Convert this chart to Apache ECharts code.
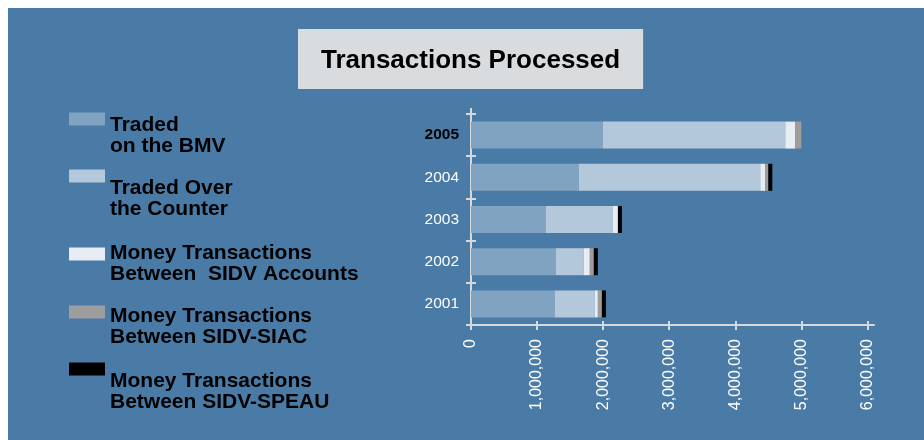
<!DOCTYPE html>
<html>
<head>
<meta charset="utf-8">
<title>Transactions Processed</title>
<script src="https://cdn.jsdelivr.net/npm/echarts@6/dist/echarts.min.js"></script>
<style>
  html, body { margin: 0; padding: 0; background: #ffffff; }
  #chart { width: 924px; height: 440px; }
</style>
</head>
<body>
<div id="chart"></div>
<script>
// Years, bottom to top on the category axis
const years = ['2001', '2002', '2003', '2004', '2005'];
const highlightYear = '2005';

// Transactions per year, by kind
const tradedBMV   = [1267000, 1282000, 1131000, 1631000, 1995000];
const tradedOTC   = [607000, 425000, 1017000, 2747000, 2762000];
const moneySIDV   = [46000, 91000, 76000, 76000, 152000];
const moneySIAC   = [61000, 61000, 0, 46000, 91000];
const moneySPEAU  = [61000, 61000, 61000, 61000, 0];

// Value axis ticks
const xTicks = [0, 1000000, 2000000, 3000000, 4000000, 5000000, 6000000];
const xMax = 6100000;

const seriesNames = [
  'Traded\non the BMV',
  'Traded Over\nthe Counter',
  'Money Transactions\nBetween  SIDV Accounts',
  'Money Transactions\nBetween SIDV-SIAC',
  'Money Transactions\nBetween SIDV-SPEAU'
];
const seriesData = [tradedBMV, tradedOTC, moneySIDV, moneySIAC, moneySPEAU];
const seriesColors = ['#7fa3c1', '#b3c8da', '#e8edf4', '#9d9d9d', '#000000'];

const panelBlue = '#4a7ba6';
const axisColor = '#d6dadd';
const font = 'Liberation Sans, Arial, Helvetica, sans-serif';

const grid = { left: 471, right: 50, top: 114, bottom: 115 };

// Legend blocks: position of each block and the blank lead line that drops its text below the swatch
const legendTops = [81, 132, 223, 276, 325];
const legendLeads = [34, 46, 20, 30, 46];

const chart = echarts.init(document.getElementById('chart'), null, { renderer: 'canvas' });

const legends = seriesNames.map((name, i) => ({
  data: [name],
  left: 69,
  top: legendTops[i],
  padding: 0,
  orient: 'vertical',
  itemWidth: 36,
  itemHeight: 13,
  selectedMode: false,
  icon: 'rect',
  itemStyle: { borderWidth: 0 },
  formatter: n => '{gap| }\n' + n.split('\n').map(s => '{t|' + s + '}').join('\n'),
  textStyle: {
    color: '#000000',
    fontFamily: font,
    fontWeight: 'bold',
    fontSize: 21,
    lineHeight: 21,
    rich: {
      gap: { fontSize: 2, lineHeight: legendLeads[i] },
      t: { color: '#000000', fontFamily: font, fontWeight: 'bold', fontSize: 21, lineHeight: 21 }
    }
  }
}));

const fmt = v => Number(v).toLocaleString('en-US');

chart.setOption({
  backgroundColor: '#ffffff',
  animation: false,
  title: {
    text: 'Transactions Processed',
    left: 298,
    top: 29,
    backgroundColor: '#d8dcdf',
    padding: [17, 23, 13, 23],
    textStyle: {
      color: '#000000',
      fontFamily: font,
      fontWeight: 'bold',
      fontSize: 26,
      lineHeight: 30
    }
  },
  graphic: [
    {
      type: 'rect',
      z: -100,
      silent: true,
      shape: { x: 8, y: 8, width: 916, height: 432 },
      style: { fill: panelBlue }
    },
    {
      // short continuation of the category axis line above the top tick
      type: 'line',
      silent: true,
      shape: { x1: grid.left, y1: grid.top - 6, x2: grid.left, y2: grid.top },
      style: { stroke: axisColor, lineWidth: 2 }
    }
  ],
  legend: legends,
  grid: grid,
  xAxis: [
    {
      type: 'value',
      min: 0,
      max: xMax,
      splitLine: { show: false },
      axisLine: { show: true, lineStyle: { color: axisColor, width: 2 } },
      axisTick: { show: true, customValues: xTicks, length: 5, lineStyle: { color: axisColor, width: 2 } },
      axisLabel: {
        customValues: xTicks,
        rotate: 90,
        margin: 14,
        color: '#ffffff',
        fontFamily: font,
        fontSize: 16,
        formatter: fmt
      }
    },
    {
      type: 'value',
      min: 0,
      max: xMax,
      position: 'bottom',
      splitLine: { show: false },
      axisLine: { show: false },
      axisTick: { show: true, inside: true, customValues: xTicks, length: 4, lineStyle: { color: axisColor, width: 2 } },
      axisLabel: { show: false }
    }
  ],
  yAxis: [
    {
      type: 'category',
      data: years,
      axisLine: { show: true, lineStyle: { color: axisColor, width: 2 } },
      axisTick: { show: true, length: 5, lineStyle: { color: axisColor, width: 2 } },
      axisLabel: {
        margin: 12,
        color: '#ffffff',
        fontFamily: font,
        fontSize: 15.5,
        formatter: v => (v === highlightYear ? '{hl|' + v + '}' : v),
        rich: {
          hl: { color: '#000000', fontWeight: 'bold', fontFamily: font, fontSize: 15.5 }
        }
      }
    },
    {
      type: 'category',
      data: years,
      position: 'left',
      axisLine: { show: false },
      axisTick: { show: true, inside: true, length: 5, lineStyle: { color: axisColor, width: 2 } },
      axisLabel: { show: false }
    }
  ],
  series: seriesNames.map((name, i) => ({
    name: name,
    type: 'bar',
    stack: 'total',
    xAxisIndex: 0,
    yAxisIndex: 0,
    barWidth: 27,
    itemStyle: { color: seriesColors[i] },
    data: seriesData[i]
  }))
});
</script>
</body>
</html>
